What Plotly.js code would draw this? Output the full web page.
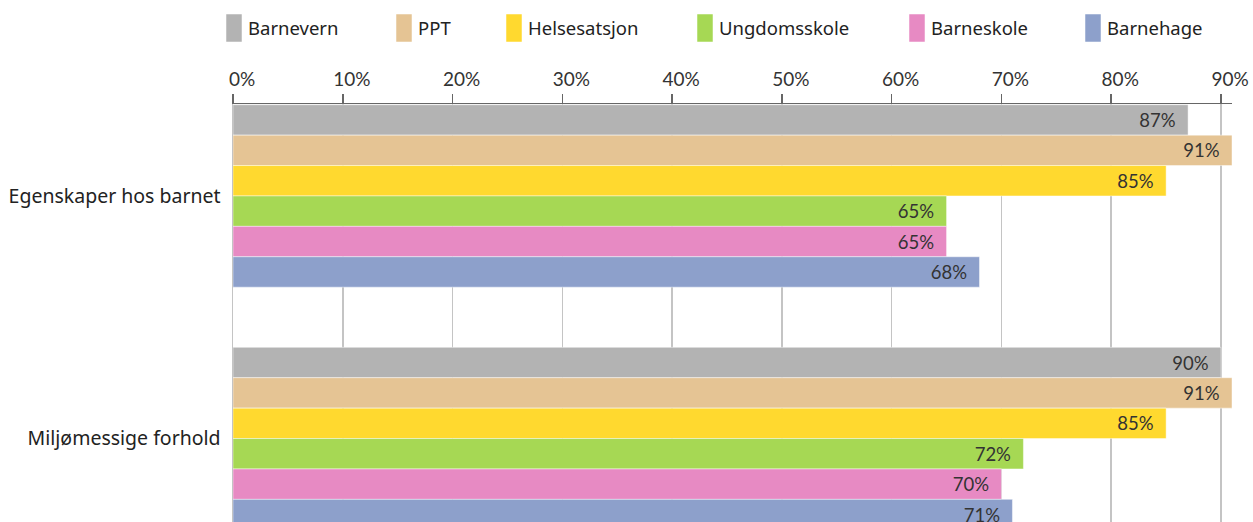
<!DOCTYPE html>
<html>
<head>
<meta charset="utf-8">
<script src="https://cdn.plot.ly/plotly-3.0.1.min.js"></script>
<style>html,body{margin:0;padding:0;background:#fff;}#chart{width:1253px;height:522px;}</style>
</head>
<body>
<div id="chart"></div>
<script>
const categories = ["Egenskaper hos barnet", "Miljømessige forhold"];
const seriesNames = ["Barnevern", "PPT", "Helsesatsjon", "Ungdomsskole", "Barneskole", "Barnehage"];
const barnevern = [87, 90];
const ppt = [91, 91];
const helsesatsjon = [85, 85];
const ungdomsskole = [65, 72];
const barneskole = [65, 70];
const barnehage = [68, 71];
const seriesColors = ["#b3b3b3", "#e5c494", "#ffd92f", "#a6d854", "#e78ac3", "#8da0cb"];
const tickValues = [0, 10, 20, 30, 40, 50, 60, 70, 80, 90];

const seriesValues = [barnevern, ppt, helsesatsjon, ungdomsskole, barneskole, barnehage];

// Plot geometry (pixels) used to place the legend key above the plot
const W = 1253, H = 522, ML = 233, MR = 21, MT = 104, MB = 0;
const PW = W - ML - MR, PH = H - MT - MB;
const px2x = p => (p - ML) / PW;
const px2y = p => (H - MB - p) / PH;
const legendSwatchLeft = [226, 396, 506, 697, 909, 1085];

const traces = seriesNames.map((name, i) => ({
  type: 'bar',
  orientation: 'h',
  name: name,
  y: categories,
  x: seriesValues[i],
  marker: { color: seriesColors[i], line: { color: 'rgba(255,255,255,0.45)', width: 1 } },
  text: seriesValues[i].map(v => v + '%\u00a0\u00a0'),
  textposition: 'inside',
  insidetextanchor: 'end',
  constraintext: 'none',
  textfont: { family: 'Lato, "Open Sans", sans-serif', size: 18.5, color: '#333333' },
  cliponaxis: true,
  hoverinfo: 'skip',
  showlegend: false
}));

const legendShapes = seriesNames.map((name, i) => ({
  type: 'rect', xref: 'paper', yref: 'paper', layer: 'above',
  x0: px2x(legendSwatchLeft[i]), x1: px2x(legendSwatchLeft[i] + 16),
  y0: px2y(42), y1: px2y(14),
  fillcolor: seriesColors[i],
  line: { color: 'rgba(255,255,255,0.5)', width: 1 }
}));

const legendLabels = seriesNames.map((name, i) => ({
  xref: 'paper', yref: 'paper',
  x: px2x(legendSwatchLeft[i] + 20), y: px2y(28),
  xanchor: 'left', yanchor: 'middle',
  text: name, showarrow: false,
  font: { family: '"Noto Sans", "Open Sans", sans-serif', size: 18.5, color: '#222222' }
}));

const layout = {
  width: W,
  height: H,
  margin: { l: ML, r: MR, t: MT, b: MB, pad: 0 },
  paper_bgcolor: '#ffffff',
  plot_bgcolor: '#ffffff',
  barmode: 'group',
  bargap: 0.248,
  bargroupgap: 0,
  showlegend: false,
  shapes: legendShapes,
  annotations: legendLabels,
  xaxis: {
    side: 'top',
    range: [0, 91],
    tickvals: tickValues,
    ticktext: tickValues.map(v => v + '%'),
    ticks: 'outside',
    ticklen: 9,
    tickwidth: 1.5,
    tickcolor: '#666666',
    ticklabelshift: 9,
    tickfont: { family: 'Lato, "Open Sans", sans-serif', size: 19, color: '#333333' },
    showline: true,
    linecolor: '#666666',
    linewidth: 1.5,
    showgrid: true,
    gridcolor: '#c4c4c4',
    gridwidth: 1.5,
    zeroline: false,
    fixedrange: true
  },
  yaxis: {
    type: 'category',
    range: [1.344, -0.379],
    ticks: 'outside',
    ticklen: 7,
    tickcolor: 'rgba(0,0,0,0)',
    tickfont: { family: '"Noto Sans", "Open Sans", sans-serif', size: 19.5, color: '#222222' },
    showline: true,
    linecolor: '#c4c4c4',
    linewidth: 1.5,
    showgrid: false,
    zeroline: false,
    fixedrange: true
  }
};

Plotly.newPlot('chart', traces, layout, { displayModeBar: false, staticPlot: true });
</script>
</body>
</html>
